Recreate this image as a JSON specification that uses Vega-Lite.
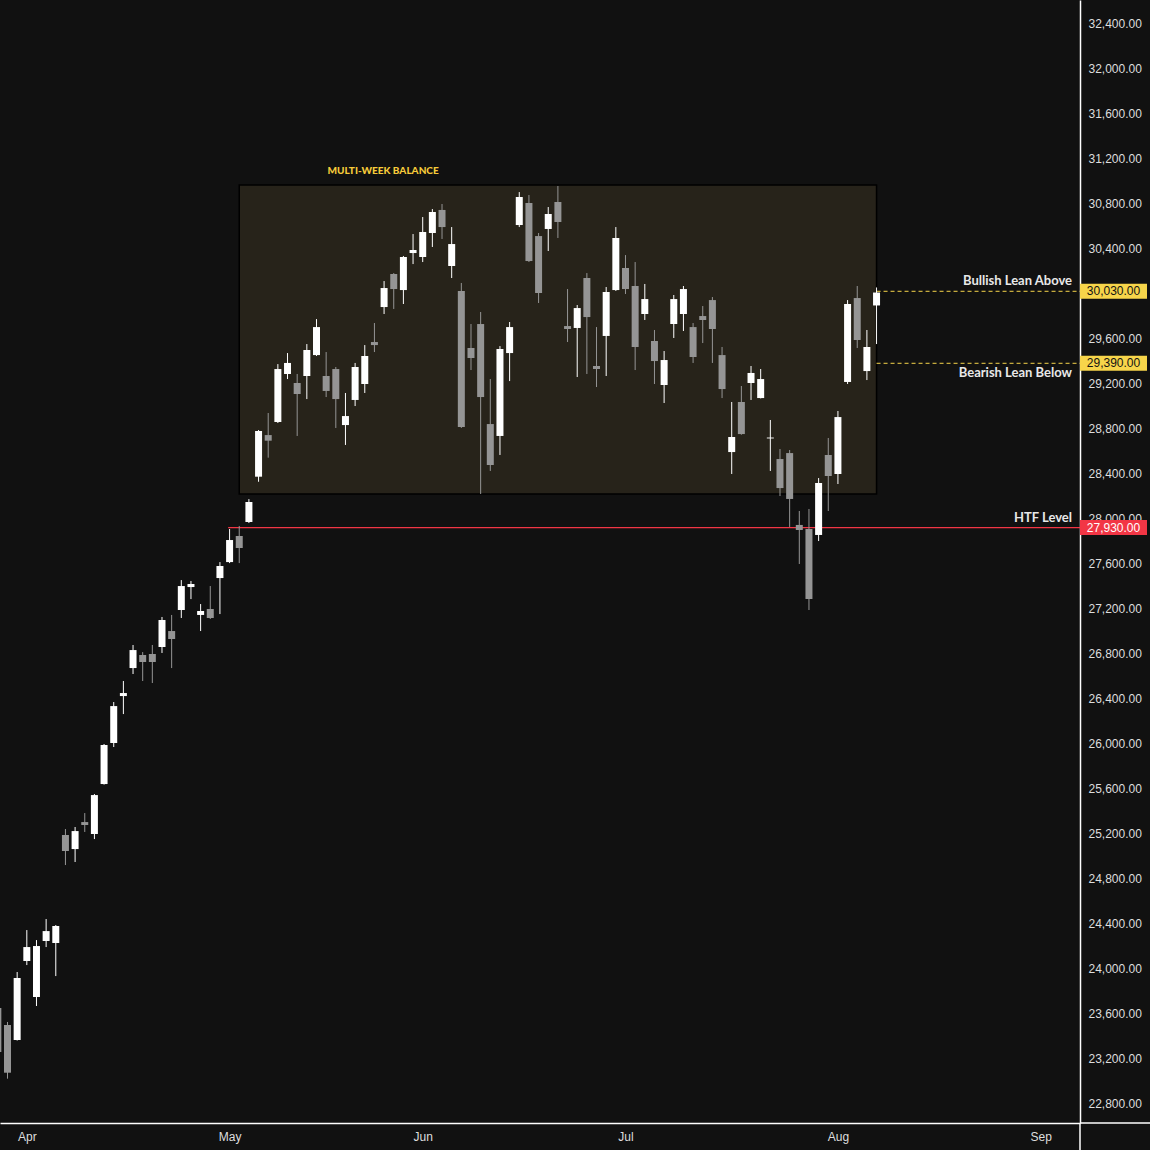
{
  "$schema": "https://vega.github.io/schema/vega-lite/v6.json",
  "width": 1080,
  "height": 1123,
  "autosize": {"type": "none"},
  "padding": {"left": 0, "top": 0, "right": 70, "bottom": 27},
  "background": "#111111",
  "config": {
    "view": {"stroke": null},
    "axis": {"grid": false, "ticks": false, "tickSize": 0, "domain": true, "domainColor": "#ffffff", "domainWidth": 1.5, "labelColor": "#dedede", "labelFont": "Liberation Sans", "labelFontSize": 12, "labelPadding": 8, "labelFlush": false, "labelOverlap": false},
    "axisY": {"labelOffset": -1.5}
  },
  "datasets": {
    "candles": [
      {"i": -1, "o": 23659, "h": 23700, "l": 23230, "c": 23268},
      {"i": 0, "o": 23508, "h": 23535, "l": 23031, "c": 23084},
      {"i": 1, "o": 23375, "h": 23979, "l": 23370, "c": 23926},
      {"i": 2, "o": 24077, "h": 24352, "l": 24041, "c": 24201},
      {"i": 3, "o": 23757, "h": 24263, "l": 23677, "c": 24210},
      {"i": 4, "o": 24255, "h": 24450, "l": 24201, "c": 24343},
      {"i": 5, "o": 24237, "h": 24397, "l": 23943, "c": 24388},
      {"i": 6, "o": 25197, "h": 25250, "l": 24930, "c": 25055},
      {"i": 7, "o": 25072, "h": 25268, "l": 24957, "c": 25232},
      {"i": 8, "o": 25312, "h": 25392, "l": 25224, "c": 25286},
      {"i": 9, "o": 25206, "h": 25561, "l": 25161, "c": 25552},
      {"i": 10, "o": 25650, "h": 26006, "l": 25645, "c": 25997},
      {"i": 11, "o": 26015, "h": 26379, "l": 25979, "c": 26343},
      {"i": 12, "o": 26432, "h": 26566, "l": 26272, "c": 26459},
      {"i": 13, "o": 26681, "h": 26886, "l": 26628, "c": 26841},
      {"i": 14, "o": 26797, "h": 26823, "l": 26566, "c": 26735},
      {"i": 15, "o": 26806, "h": 26886, "l": 26548, "c": 26735},
      {"i": 16, "o": 26868, "h": 27135, "l": 26815, "c": 27108},
      {"i": 17, "o": 27010, "h": 27153, "l": 26681, "c": 26939},
      {"i": 18, "o": 27197, "h": 27463, "l": 27126, "c": 27410},
      {"i": 19, "o": 27401, "h": 27455, "l": 27294, "c": 27428},
      {"i": 20, "o": 27153, "h": 27250, "l": 27010, "c": 27188},
      {"i": 21, "o": 27206, "h": 27410, "l": 27117, "c": 27126},
      {"i": 22, "o": 27481, "h": 27623, "l": 27161, "c": 27588},
      {"i": 23, "o": 27623, "h": 27917, "l": 27614, "c": 27819},
      {"i": 24, "o": 27855, "h": 27944, "l": 27614, "c": 27748},
      {"i": 25, "o": 27979, "h": 28183, "l": 27970, "c": 28157},
      {"i": 26, "o": 28382, "h": 28797, "l": 28337, "c": 28788},
      {"i": 27, "o": 28752, "h": 28948, "l": 28551, "c": 28702},
      {"i": 28, "o": 28868, "h": 29383, "l": 28859, "c": 29339},
      {"i": 29, "o": 29295, "h": 29481, "l": 29250, "c": 29393},
      {"i": 30, "o": 29215, "h": 29295, "l": 28744, "c": 29117},
      {"i": 31, "o": 29277, "h": 29561, "l": 29072, "c": 29508},
      {"i": 32, "o": 29463, "h": 29783, "l": 29455, "c": 29712},
      {"i": 33, "o": 29277, "h": 29490, "l": 29090, "c": 29144},
      {"i": 34, "o": 29339, "h": 29357, "l": 28815, "c": 29072},
      {"i": 35, "o": 28841, "h": 29126, "l": 28664, "c": 28921},
      {"i": 36, "o": 29064, "h": 29393, "l": 29010, "c": 29357},
      {"i": 37, "o": 29206, "h": 29552, "l": 29126, "c": 29455},
      {"i": 38, "o": 29579, "h": 29748, "l": 29490, "c": 29552},
      {"i": 39, "o": 29890, "h": 30121, "l": 29828, "c": 30059},
      {"i": 40, "o": 30184, "h": 30192, "l": 29873, "c": 30050},
      {"i": 41, "o": 30041, "h": 30344, "l": 29917, "c": 30335},
      {"i": 42, "o": 30370, "h": 30539, "l": 30272, "c": 30397},
      {"i": 43, "o": 30335, "h": 30690, "l": 30290, "c": 30557},
      {"i": 44, "o": 30548, "h": 30761, "l": 30424, "c": 30735},
      {"i": 45, "o": 30753, "h": 30806, "l": 30495, "c": 30601},
      {"i": 46, "o": 30255, "h": 30601, "l": 30148, "c": 30450},
      {"i": 47, "o": 30033, "h": 30104, "l": 28815, "c": 28824},
      {"i": 48, "o": 29526, "h": 29739, "l": 29330, "c": 29437},
      {"i": 49, "o": 29739, "h": 29846, "l": 28228, "c": 29090},
      {"i": 50, "o": 28850, "h": 29250, "l": 28433, "c": 28486},
      {"i": 51, "o": 28744, "h": 29543, "l": 28575, "c": 29517},
      {"i": 52, "o": 29481, "h": 29757, "l": 29232, "c": 29712},
      {"i": 53, "o": 30619, "h": 30912, "l": 30601, "c": 30868},
      {"i": 54, "o": 30815, "h": 30886, "l": 30290, "c": 30299},
      {"i": 55, "o": 30521, "h": 30548, "l": 29926, "c": 30015},
      {"i": 56, "o": 30584, "h": 30779, "l": 30388, "c": 30717},
      {"i": 57, "o": 30824, "h": 30966, "l": 30504, "c": 30646},
      {"i": 58, "o": 29721, "h": 30050, "l": 29579, "c": 29695},
      {"i": 59, "o": 29704, "h": 29908, "l": 29268, "c": 29881},
      {"i": 60, "o": 30148, "h": 30192, "l": 29295, "c": 29801},
      {"i": 61, "o": 29366, "h": 29712, "l": 29179, "c": 29339},
      {"i": 62, "o": 29633, "h": 30068, "l": 29277, "c": 30024},
      {"i": 63, "o": 30041, "h": 30601, "l": 30033, "c": 30504},
      {"i": 64, "o": 30237, "h": 30352, "l": 30006, "c": 30050},
      {"i": 65, "o": 30077, "h": 30290, "l": 29330, "c": 29535},
      {"i": 66, "o": 29828, "h": 30095, "l": 29775, "c": 29961},
      {"i": 67, "o": 29588, "h": 29686, "l": 29206, "c": 29410},
      {"i": 68, "o": 29197, "h": 29499, "l": 29037, "c": 29419},
      {"i": 69, "o": 29739, "h": 29997, "l": 29615, "c": 29961},
      {"i": 70, "o": 29828, "h": 30077, "l": 29677, "c": 30050},
      {"i": 71, "o": 29712, "h": 29748, "l": 29393, "c": 29446},
      {"i": 72, "o": 29810, "h": 29899, "l": 29570, "c": 29775},
      {"i": 73, "o": 29952, "h": 29979, "l": 29393, "c": 29695},
      {"i": 74, "o": 29463, "h": 29535, "l": 29081, "c": 29161},
      {"i": 75, "o": 28601, "h": 29046, "l": 28406, "c": 28735},
      {"i": 76, "o": 29046, "h": 29188, "l": 28755, "c": 28761},
      {"i": 77, "o": 29215, "h": 29366, "l": 29064, "c": 29304},
      {"i": 78, "o": 29081, "h": 29339, "l": 29078, "c": 29250},
      {"i": 79, "o": 28722, "h": 28886, "l": 28433, "c": 28730},
      {"i": 80, "o": 28539, "h": 28628, "l": 28210, "c": 28281},
      {"i": 81, "o": 28592, "h": 28619, "l": 27935, "c": 28184},
      {"i": 82, "o": 27953, "h": 28077, "l": 27606, "c": 27908},
      {"i": 83, "o": 27917, "h": 28095, "l": 27197, "c": 27295},
      {"i": 84, "o": 27864, "h": 28370, "l": 27810, "c": 28326},
      {"i": 85, "o": 28575, "h": 28726, "l": 28077, "c": 28388},
      {"i": 86, "o": 28406, "h": 28966, "l": 28317, "c": 28912},
      {"i": 87, "o": 29224, "h": 29952, "l": 29206, "c": 29917},
      {"i": 88, "o": 29970, "h": 30077, "l": 29526, "c": 29597},
      {"i": 89, "o": 29321, "h": 29686, "l": 29241, "c": 29535},
      {"i": 90, "o": 29904, "h": 30064, "l": 29561, "c": 30019}
    ],
    "zone": [
      {"title": "MULTI-WEEK BALANCE", "from": 24, "to": 90, "lo": 28228, "hi": 30975}
    ],
    "levels": [
      {"label": "Bullish Lean Above", "price": 30030, "from": 90, "kind": "lean", "side": "above"},
      {"label": "Bearish Lean Below", "price": 29390, "from": 90, "kind": "lean", "side": "below"},
      {"label": "HTF Level", "price": 27930, "from": 22.85, "kind": "htf", "side": "above"}
    ]
  },
  "layer": [
    {
      "data": {"name": "zone"},
      "mark": {"type": "rect", "fill": "#27231a", "stroke": "#000000", "strokeWidth": 1.5},
      "encoding": {
        "x": {"field": "from", "type": "quantitative", "scale": {"domain": [-0.777, 111.07], "nice": false, "zero": false, "padding": 0},
          "axis": {"orient": "bottom", "title": null, "values": [2, 23, 43, 64, 86, 107], "labelExpr": "datum.value == 2 ? 'Apr' : datum.value == 23 ? 'May' : datum.value == 43 ? 'Jun' : datum.value == 64 ? 'Jul' : datum.value == 86 ? 'Aug' : 'Sep'"}},
        "x2": {"field": "to"},
        "y": {"field": "lo", "type": "quantitative", "scale": {"domain": [22637, 32619.3], "nice": false, "zero": false},
          "axis": {"orient": "right", "title": null, "format": ",.2f", "values": [22800, 23200, 23600, 24000, 24400, 24800, 25200, 25600, 26000, 26400, 26800, 27200, 27600, 28000, 28400, 28800, 29200, 29600, 30400, 30800, 31200, 31600, 32000, 32400]}},
        "y2": {"field": "hi"}
      }
    },
    {
      "data": {"name": "zone"},
      "mark": {"type": "text", "font": "Lato", "fontWeight": 900, "fontSize": 10, "color": "#f7cb3a", "align": "center", "baseline": "middle"},
      "encoding": {
        "x": {"datum": 38.9, "type": "quantitative", "scale": {"domain": [-0.777, 111.07], "nice": false, "zero": false, "padding": 0},
          "axis": {"orient": "bottom", "title": null, "values": [2, 23, 43, 64, 86, 107], "labelExpr": "datum.value == 2 ? 'Apr' : datum.value == 23 ? 'May' : datum.value == 43 ? 'Jun' : datum.value == 64 ? 'Jul' : datum.value == 86 ? 'Aug' : 'Sep'"}},
        "y": {"datum": 31097, "type": "quantitative", "scale": {"domain": [22637, 32619.3], "nice": false, "zero": false},
          "axis": {"orient": "right", "title": null, "format": ",.2f", "values": [22800, 23200, 23600, 24000, 24400, 24800, 25200, 25600, 26000, 26400, 26800, 27200, 27600, 28000, 28400, 28800, 29200, 29600, 30400, 30800, 31200, 31600, 32000, 32400]}},
        "text": {"field": "title"}
      }
    },
    {
      "data": {"name": "levels"},
      "transform": [{"filter": "datum.kind == 'lean'"}],
      "mark": {"type": "rule", "strokeWidth": 1, "color": "#f7d54a", "stroke": "#f7d54a", "opacity": 1, "strokeDash": [4, 3]},
      "encoding": {
        "x": {"field": "from", "type": "quantitative", "scale": {"domain": [-0.777, 111.07], "nice": false, "zero": false, "padding": 0},
          "axis": {"orient": "bottom", "title": null, "values": [2, 23, 43, 64, 86, 107], "labelExpr": "datum.value == 2 ? 'Apr' : datum.value == 23 ? 'May' : datum.value == 43 ? 'Jun' : datum.value == 64 ? 'Jul' : datum.value == 86 ? 'Aug' : 'Sep'"}},
        "x2": {"datum": 111.07},
        "y": {"field": "price", "type": "quantitative", "scale": {"domain": [22637, 32619.3], "nice": false, "zero": false},
          "axis": {"orient": "right", "title": null, "format": ",.2f", "values": [22800, 23200, 23600, 24000, 24400, 24800, 25200, 25600, 26000, 26400, 26800, 27200, 27600, 28000, 28400, 28800, 29200, 29600, 30400, 30800, 31200, 31600, 32000, 32400]}}
      }
    },
    {
      "data": {"name": "levels"},
      "transform": [{"filter": "datum.kind == 'htf'"}],
      "mark": {"type": "rule", "strokeWidth": 1.2, "color": "#f23645", "stroke": "#f23645", "opacity": 1},
      "encoding": {
        "x": {"field": "from", "type": "quantitative", "scale": {"domain": [-0.777, 111.07], "nice": false, "zero": false, "padding": 0},
          "axis": {"orient": "bottom", "title": null, "values": [2, 23, 43, 64, 86, 107], "labelExpr": "datum.value == 2 ? 'Apr' : datum.value == 23 ? 'May' : datum.value == 43 ? 'Jun' : datum.value == 64 ? 'Jul' : datum.value == 86 ? 'Aug' : 'Sep'"}},
        "x2": {"datum": 111.07},
        "y": {"field": "price", "type": "quantitative", "scale": {"domain": [22637, 32619.3], "nice": false, "zero": false},
          "axis": {"orient": "right", "title": null, "format": ",.2f", "values": [22800, 23200, 23600, 24000, 24400, 24800, 25200, 25600, 26000, 26400, 26800, 27200, 27600, 28000, 28400, 28800, 29200, 29600, 30400, 30800, 31200, 31600, 32000, 32400]}}
      }
    },
    {
      "data": {"name": "candles"},
      "mark": {"type": "rule", "strokeWidth": 1},
      "encoding": {
        "x": {"field": "i", "type": "quantitative", "scale": {"domain": [-0.777, 111.07], "nice": false, "zero": false, "padding": 0},
          "axis": {"orient": "bottom", "title": null, "values": [2, 23, 43, 64, 86, 107], "labelExpr": "datum.value == 2 ? 'Apr' : datum.value == 23 ? 'May' : datum.value == 43 ? 'Jun' : datum.value == 64 ? 'Jul' : datum.value == 86 ? 'Aug' : 'Sep'"}},
        "y": {"field": "l", "type": "quantitative", "scale": {"domain": [22637, 32619.3], "nice": false, "zero": false},
          "axis": {"orient": "right", "title": null, "format": ",.2f", "values": [22800, 23200, 23600, 24000, 24400, 24800, 25200, 25600, 26000, 26400, 26800, 27200, 27600, 28000, 28400, 28800, 29200, 29600, 30400, 30800, 31200, 31600, 32000, 32400]}},
        "y2": {"field": "h"},
        "color": {"condition": {"test": "datum.c >= datum.o", "value": "#ffffff"}, "value": "#959595"}
      }
    },
    {
      "data": {"name": "candles"},
      "mark": {"type": "bar", "width": 7},
      "encoding": {
        "x": {"field": "i", "type": "quantitative", "scale": {"domain": [-0.777, 111.07], "nice": false, "zero": false, "padding": 0},
          "axis": {"orient": "bottom", "title": null, "values": [2, 23, 43, 64, 86, 107], "labelExpr": "datum.value == 2 ? 'Apr' : datum.value == 23 ? 'May' : datum.value == 43 ? 'Jun' : datum.value == 64 ? 'Jul' : datum.value == 86 ? 'Aug' : 'Sep'"}},
        "y": {"field": "o", "type": "quantitative", "scale": {"domain": [22637, 32619.3], "nice": false, "zero": false},
          "axis": {"orient": "right", "title": null, "format": ",.2f", "values": [22800, 23200, 23600, 24000, 24400, 24800, 25200, 25600, 26000, 26400, 26800, 27200, 27600, 28000, 28400, 28800, 29200, 29600, 30400, 30800, 31200, 31600, 32000, 32400]}},
        "y2": {"field": "c"},
        "color": {"condition": {"test": "datum.c >= datum.o", "value": "#ffffff"}, "value": "#959595"}
      }
    },
    {
      "data": {"name": "levels"},
      "transform": [{"filter": "datum.side == 'above'"}],
      "mark": {"type": "text", "font": "Lato", "fontWeight": "bold", "fontSize": 13, "color": "#e8e8e8", "align": "right", "baseline": "middle", "dx": -8, "dy": -10},
      "encoding": {
        "x": {"datum": 111.07, "type": "quantitative", "scale": {"domain": [-0.777, 111.07], "nice": false, "zero": false, "padding": 0},
          "axis": {"orient": "bottom", "title": null, "values": [2, 23, 43, 64, 86, 107], "labelExpr": "datum.value == 2 ? 'Apr' : datum.value == 23 ? 'May' : datum.value == 43 ? 'Jun' : datum.value == 64 ? 'Jul' : datum.value == 86 ? 'Aug' : 'Sep'"}},
        "y": {"field": "price", "type": "quantitative", "scale": {"domain": [22637, 32619.3], "nice": false, "zero": false},
          "axis": {"orient": "right", "title": null, "format": ",.2f", "values": [22800, 23200, 23600, 24000, 24400, 24800, 25200, 25600, 26000, 26400, 26800, 27200, 27600, 28000, 28400, 28800, 29200, 29600, 30400, 30800, 31200, 31600, 32000, 32400]}},
        "text": {"field": "label"}
      }
    },
    {
      "data": {"name": "levels"},
      "transform": [{"filter": "datum.side == 'below'"}],
      "mark": {"type": "text", "font": "Lato", "fontWeight": "bold", "fontSize": 13, "color": "#e8e8e8", "align": "right", "baseline": "middle", "dx": -8, "dy": 10},
      "encoding": {
        "x": {"datum": 111.07, "type": "quantitative", "scale": {"domain": [-0.777, 111.07], "nice": false, "zero": false, "padding": 0},
          "axis": {"orient": "bottom", "title": null, "values": [2, 23, 43, 64, 86, 107], "labelExpr": "datum.value == 2 ? 'Apr' : datum.value == 23 ? 'May' : datum.value == 43 ? 'Jun' : datum.value == 64 ? 'Jul' : datum.value == 86 ? 'Aug' : 'Sep'"}},
        "y": {"field": "price", "type": "quantitative", "scale": {"domain": [22637, 32619.3], "nice": false, "zero": false},
          "axis": {"orient": "right", "title": null, "format": ",.2f", "values": [22800, 23200, 23600, 24000, 24400, 24800, 25200, 25600, 26000, 26400, 26800, 27200, 27600, 28000, 28400, 28800, 29200, 29600, 30400, 30800, 31200, 31600, 32000, 32400]}},
        "text": {"field": "label"}
      }
    },
    {
      "data": {"name": "levels"},
      "mark": {"type": "point", "shape": "M-1,-0.224L1,-0.224L1,0.224L-1,0.224Z", "size": 4489, "filled": true, "opacity": 1, "strokeWidth": 0},
      "encoding": {
        "x": {"datum": 114.54, "type": "quantitative", "scale": {"domain": [-0.777, 111.07], "nice": false, "zero": false, "padding": 0},
          "axis": {"orient": "bottom", "title": null, "values": [2, 23, 43, 64, 86, 107], "labelExpr": "datum.value == 2 ? 'Apr' : datum.value == 23 ? 'May' : datum.value == 43 ? 'Jun' : datum.value == 64 ? 'Jul' : datum.value == 86 ? 'Aug' : 'Sep'"}},
        "y": {"field": "price", "type": "quantitative", "scale": {"domain": [22637, 32619.3], "nice": false, "zero": false},
          "axis": {"orient": "right", "title": null, "format": ",.2f", "values": [22800, 23200, 23600, 24000, 24400, 24800, 25200, 25600, 26000, 26400, 26800, 27200, 27600, 28000, 28400, 28800, 29200, 29600, 30400, 30800, 31200, 31600, 32000, 32400]}},
        "color": {"field": "kind", "type": "nominal", "scale": {"domain": ["lean", "htf"], "range": ["#f7d54a", "#f23645"]}, "legend": null}
      }
    },
    {
      "data": {"name": "levels"},
      "mark": {"type": "text", "font": "Liberation Sans", "fontSize": 12, "align": "center", "baseline": "middle"},
      "encoding": {
        "x": {"datum": 114.54, "type": "quantitative", "scale": {"domain": [-0.777, 111.07], "nice": false, "zero": false, "padding": 0},
          "axis": {"orient": "bottom", "title": null, "values": [2, 23, 43, 64, 86, 107], "labelExpr": "datum.value == 2 ? 'Apr' : datum.value == 23 ? 'May' : datum.value == 43 ? 'Jun' : datum.value == 64 ? 'Jul' : datum.value == 86 ? 'Aug' : 'Sep'"}},
        "y": {"field": "price", "type": "quantitative", "scale": {"domain": [22637, 32619.3], "nice": false, "zero": false},
          "axis": {"orient": "right", "title": null, "format": ",.2f", "values": [22800, 23200, 23600, 24000, 24400, 24800, 25200, 25600, 26000, 26400, 26800, 27200, 27600, 28000, 28400, 28800, 29200, 29600, 30400, 30800, 31200, 31600, 32000, 32400]}},
        "text": {"field": "price", "type": "quantitative", "format": ",.2f"},
        "color": {"condition": {"test": "datum.kind == 'htf'", "value": "#ffffff"}, "value": "#131313"}
      }
    },
    {
      "data": {"values": [{}]},
      "mark": {"type": "rule", "color": "#ffffff", "strokeWidth": 1.5},
      "encoding": {
        "x": {"datum": 111.07, "type": "quantitative", "scale": {"domain": [-0.777, 111.07], "nice": false, "zero": false, "padding": 0},
          "axis": {"orient": "bottom", "title": null, "values": [2, 23, 43, 64, 86, 107], "labelExpr": "datum.value == 2 ? 'Apr' : datum.value == 23 ? 'May' : datum.value == 43 ? 'Jun' : datum.value == 64 ? 'Jul' : datum.value == 86 ? 'Aug' : 'Sep'"}},
        "y": {"datum": 22637, "type": "quantitative", "scale": {"domain": [22637, 32619.3], "nice": false, "zero": false},
          "axis": {"orient": "right", "title": null, "format": ",.2f", "values": [22800, 23200, 23600, 24000, 24400, 24800, 25200, 25600, 26000, 26400, 26800, 27200, 27600, 28000, 28400, 28800, 29200, 29600, 30400, 30800, 31200, 31600, 32000, 32400]}},
        "y2": {"datum": 22390}
      }
    },
    {
      "data": {"values": [{}]},
      "mark": {"type": "rule", "color": "#ffffff", "strokeWidth": 1.5},
      "encoding": {
        "x": {"datum": 111.07, "type": "quantitative", "scale": {"domain": [-0.777, 111.07], "nice": false, "zero": false, "padding": 0},
          "axis": {"orient": "bottom", "title": null, "values": [2, 23, 43, 64, 86, 107], "labelExpr": "datum.value == 2 ? 'Apr' : datum.value == 23 ? 'May' : datum.value == 43 ? 'Jun' : datum.value == 64 ? 'Jul' : datum.value == 86 ? 'Aug' : 'Sep'"}},
        "x2": {"datum": 118.5},
        "y": {"datum": 22637, "type": "quantitative", "scale": {"domain": [22637, 32619.3], "nice": false, "zero": false},
          "axis": {"orient": "right", "title": null, "format": ",.2f", "values": [22800, 23200, 23600, 24000, 24400, 24800, 25200, 25600, 26000, 26400, 26800, 27200, 27600, 28000, 28400, 28800, 29200, 29600, 30400, 30800, 31200, 31600, 32000, 32400]}}
      }
    }
  ]
}
